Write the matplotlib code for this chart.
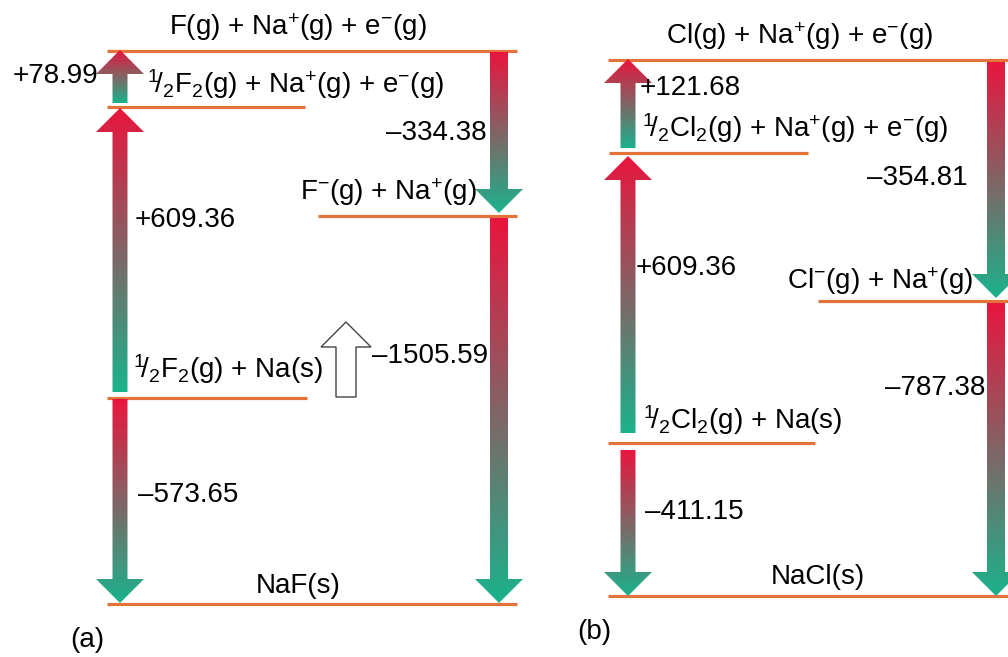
import matplotlib
matplotlib.use('Agg')
import matplotlib.pyplot as plt
from matplotlib.patches import Polygon
from matplotlib.colors import LinearSegmentedColormap
import numpy as np

plt.rcParams['font.family'] = ['Liberation Sans', 'DejaVu Sans']
plt.rcParams['mathtext.fontset'] = 'custom'
plt.rcParams['mathtext.rm'] = 'Liberation Sans'
plt.rcParams['mathtext.it'] = 'Liberation Sans:italic'
plt.rcParams['mathtext.default'] = 'regular'

# ---- data: Born-Haber cycles (kJ/mol) ----
naf_states = [r'F(g) + Na$^{+}$(g) + e$^{-}$(g)',
              r'$^{1}\!/_{2}$F$_{2}$(g) + Na$^{+}$(g) + e$^{-}$(g)',
              r'F$^{-}$(g) + Na$^{+}$(g)',
              r'$^{1}\!/_{2}$F$_{2}$(g) + Na(s)',
              'NaF(s)']
naf_steps = [78.99, 609.36, -573.65, -334.38, -1505.59]

nacl_states = [r'Cl(g) + Na$^{+}$(g) + e$^{-}$(g)',
               r'$^{1}\!/_{2}$Cl$_{2}$(g) + Na$^{+}$(g) + e$^{-}$(g)',
               r'Cl$^{-}$(g) + Na$^{+}$(g)',
               r'$^{1}\!/_{2}$Cl$_{2}$(g) + Na(s)',
               'NaCl(s)']
nacl_steps = [121.68, 609.36, -411.15, -354.81, -787.38]

# ---- layout (pixels, diagram is schematic, not to scale) ----
panels = [
    dict(states=naf_states, steps=naf_steps, tag='(a)', tag_xy=(87, 640),
         level_y=[51, 107, 216, 398, 604],
         level_x=[(107, 517), (107, 305), (318, 517), (107, 307), (107, 517)],
         label_xy=[(298, 27, 'center'), (147, 84, 'left'), (300, 192, 'left'),
                   (133, 369, 'left'), (298, 586, 'center')],
         cols=[120, 120, 120, 499, 499], shaft=[15, 15, 15, 18, 18],
         ends=[(103, 50), (392, 108), (399, 603), (52, 213), (218, 603)],
         val_xy=[(98, 76, 'right'), (135, 220, 'left'), (138, 495, 'left'),
                 (487, 133, 'right'), (372, 356, 'left')]),
    dict(states=nacl_states, steps=nacl_steps, tag='(b)', tag_xy=(594, 632),
         level_y=[60, 153, 301, 443, 596],
         level_x=[(608, 1008), (609, 808), (818, 1008), (608, 815), (608, 1008)],
         label_xy=[(800, 36, 'center'), (642, 128, 'left'), (787, 281, 'left'),
                   (643, 420, 'left'), (818, 577, 'center')],
         cols=[628, 628, 628, 996, 996], shaft=[15, 15, 15, 18, 18],
         ends=[(148, 59), (433, 156), (450, 596), (62, 298), (303, 596)],
         val_xy=[(640, 88, 'left'), (636, 268, 'left'), (645, 512, 'left'),
                 (968, 178, 'right'), (985, 388, 'right')]),
]

FS = 20
LEVEL_COLOR = '#E2733A'
grad = LinearSegmentedColormap.from_list('rg', ['#E8163E', '#1BB28C'])


def arrow_poly(x, y0, y1, w, hw=48, hl=24):
    d = np.sign(y1 - y0)
    yn = y1 - d * hl
    return [(x - w / 2, y0), (x + w / 2, y0), (x + w / 2, yn), (x + hw / 2, yn),
            (x, y1), (x - hw / 2, yn), (x - w / 2, yn)]


def fmt(v):
    return f'{v:+.2f}'.replace('-', '\u2013')


fig = plt.figure(figsize=(10.08, 6.57), dpi=100)
ax = fig.add_axes([0, 0, 1, 1])
ax.set_xlim(0, 1008)
ax.set_ylim(657, 0)
ax.axis('off')

for p in panels:
    # energy levels
    for y, (xa, xb) in zip(p['level_y'], p['level_x']):
        ax.plot([xa, xb], [y, y], color=LEVEL_COLOR, lw=2.3, solid_capstyle='butt', zorder=1)
    for s, (lx, ly, ha) in zip(p['states'], p['label_xy']):
        ax.text(lx, ly, s, fontsize=FS, ha=ha, va='center', zorder=4)
    # gradient arrows, red at the top fading to teal at the bottom
    for v, x, w, (y0, y1), (vx, vy, ha) in zip(p['steps'], p['cols'], p['shaft'],
                                              p['ends'], p['val_xy']):
        poly = Polygon(arrow_poly(x, y0, y1, w), closed=True, fc='none', ec='none')
        ax.add_patch(poly)
        top, bot = min(y0, y1), max(y0, y1)
        im = ax.imshow(np.linspace(0, 1, 200).reshape(-1, 1), cmap=grad, aspect='auto',
                       extent=(x - 25, x + 25, bot, top), origin='upper',
                       interpolation='bilinear', zorder=2)
        im.set_clip_path(poly)
        ax.text(vx, vy, fmt(v), fontsize=FS, ha=ha, va='center', zorder=4)
    ax.text(p['tag_xy'][0], p['tag_xy'][1], p['tag'], fontsize=FS, ha='center', va='center')

# hollow arrow marking the lattice energy direction
ax.add_patch(Polygon(arrow_poly(346, 397, 322, 20, hw=50, hl=25), closed=True,
                     fc='white', ec='#444444', lw=1.0, zorder=3))

ax.set_xlim(0, 1008)
ax.set_ylim(657, 0)
fig.savefig('out.png', dpi=100)
